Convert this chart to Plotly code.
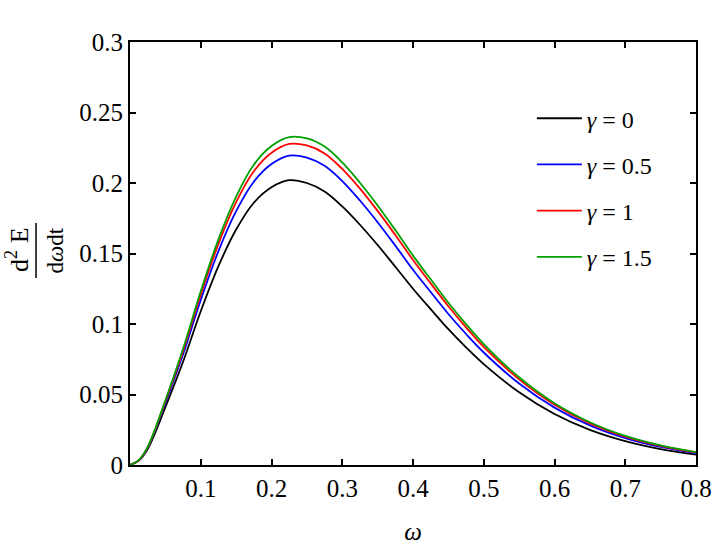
import plotly.graph_objects as go

# omega grid and spectra
omega = [0, 0.0125, 0.025, 0.05, 0.075, 0.1, 0.125, 0.15, 0.175, 0.2, 0.225, 0.25, 0.275,
         0.3, 0.325, 0.35, 0.375, 0.4, 0.425, 0.45, 0.475, 0.5, 0.55, 0.6, 0.65, 0.7, 0.75, 0.8]
gamma_0 = [0, 0.0031, 0.0114, 0.041, 0.0732, 0.109, 0.141, 0.167, 0.186, 0.197, 0.202, 0.200, 0.194,
           0.1834, 0.1704, 0.156, 0.1406, 0.125, 0.1105, 0.0963, 0.0834, 0.0715, 0.0516, 0.0362,
           0.0249, 0.0169, 0.0113, 0.0074]
gamma_05 = [0, 0.0033, 0.0122, 0.0439, 0.0785, 0.1171, 0.1517, 0.180, 0.2009, 0.2134, 0.2194, 0.218, 0.2122,
            0.2014, 0.1876, 0.1722, 0.1556, 0.1385, 0.1227, 0.1071, 0.0929, 0.0798, 0.0578, 0.0407,
            0.0281, 0.0191, 0.0128, 0.0084]
gamma_1 = [0, 0.0034, 0.0125, 0.0451, 0.0808, 0.1208, 0.1568, 0.1864, 0.2083, 0.2214, 0.2277, 0.2266, 0.221,
           0.2100, 0.196, 0.1802, 0.1631, 0.1454, 0.1288, 0.1126, 0.0976, 0.0838, 0.0607, 0.0427,
           0.0295, 0.0201, 0.0135, 0.0089]
gamma_15 = [0, 0.0035, 0.0128, 0.0459, 0.0824, 0.1232, 0.160, 0.1904, 0.213, 0.2262, 0.2325, 0.2316, 0.2258,
            0.2146, 0.2002, 0.1841, 0.1666, 0.1485, 0.1317, 0.1151, 0.0999, 0.0858, 0.0622, 0.0438,
            0.0303, 0.0206, 0.0139, 0.0091]

series = [
    ("<i>γ</i> = 0", gamma_0, "#000000"),
    ("<i>γ</i> = 0.5", gamma_05, "#0000ff"),
    ("<i>γ</i> = 1", gamma_1, "#ff0000"),
    ("<i>γ</i> = 1.5", gamma_15, "#00a000"),
]

xticks = [0.1, 0.2, 0.3, 0.4, 0.5, 0.6, 0.7, 0.8]
xticklabels = ["0.1", "0.2", "0.3", "0.4", "0.5", "0.6", "0.7", "0.8"]
yticks = [0, 0.05, 0.1, 0.15, 0.2, 0.25, 0.3]
yticklabels = ["0", "0.05", "0.1", "0.15", "0.2", "0.25", "0.3"]

serif = "Liberation Serif"

fig = go.Figure()
for i, (name, vals, col) in enumerate(series):
    fig.add_trace(go.Scatter(
        x=omega, y=vals, name=name, mode="lines",
        line=dict(color=col, width=1.8, shape="spline", smoothing=1.0),
        legendgroup=str(i),
    ))

axis_common = dict(
    showline=True, linecolor="black", linewidth=2, mirror="ticks",
    ticks="inside", ticklen=6, tickwidth=1.5, tickcolor="black",
    showgrid=False, zeroline=False, automargin=False,
)

fig.update_xaxes(range=[0, 0.8], tickvals=xticks, ticktext=xticklabels,
                 tickfont=dict(family=serif, size=25, color="black"), ticklabelstandoff=0,
                 title=dict(text="<i>ω</i>", font=dict(family=serif, size=25, color="black"), standoff=24),
                 **axis_common)
fig.update_yaxes(range=[0, 0.3], tickvals=yticks, ticktext=yticklabels,
                 tickfont=dict(family=serif, size=25, color="black"), ticklabelstandoff=0,
                 **axis_common)

# y-axis title drawn as a rotated fraction
fig.add_annotation(text="d<sup>2</sup> E", xref="paper", yref="paper", x=-0.2, y=0.508,
                   showarrow=False, textangle=-90, xanchor="center", yanchor="middle",
                   font=dict(family=serif, size=26, color="black"))
fig.add_annotation(text="d<i>ω</i>dt", xref="paper", yref="paper", x=-0.132, y=0.508,
                   showarrow=False, textangle=-90, xanchor="center", yanchor="middle",
                   font=dict(family=serif, size=23, color="black"))
fig.add_shape(type="line", xref="paper", yref="paper", x0=-0.166, x1=-0.166, y0=0.442, y1=0.572,
              line=dict(color="black", width=1.5))

fig.update_layout(
    width=714, height=545,
    margin=dict(l=130, r=18, t=42, b=80, autoexpand=False),
    paper_bgcolor="white", plot_bgcolor="white",
    font=dict(family=serif, size=24, color="black"),
    legend=dict(x=0.71, y=0.872, xanchor="left", yanchor="top",
                font=dict(family=serif, size=24, color="black"),
                itemwidth=45, tracegroupgap=12, bgcolor="rgba(0,0,0,0)"),
    showlegend=True,
)

# drop the default 8px page margin so the figure sits at the window origin
fig.write_html("out.html", config={"displayModeBar": False},
               post_script="document.body.style.margin='0';")
